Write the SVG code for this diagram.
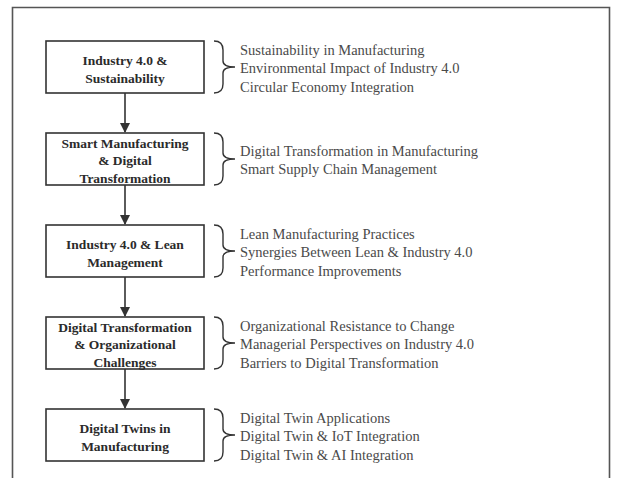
<svg xmlns="http://www.w3.org/2000/svg" width="621" height="478" viewBox="0 0 621 478">
<style>
.frame{fill:none;stroke:#555;stroke-width:1.6}
.box{fill:#fff;stroke:#333;stroke-width:1.6}
.bt{font-family:"Liberation Serif",serif;font-weight:bold;font-size:13.5px;fill:#2b2b2b;text-anchor:middle}
.rt{font-family:"Liberation Serif",serif;font-size:14.5px;fill:#4a4a4a}
.brace{fill:none;stroke:#333;stroke-width:1.4}
.conn{stroke:#333;stroke-width:1.6;fill:none}
</style>
<defs>
<marker id="ah" markerWidth="10" markerHeight="12" refX="9" refY="6" orient="auto" markerUnits="userSpaceOnUse">
<path d="M0,1 L10,6 L0,11 Z" fill="#333"/>
</marker>
</defs>
<rect width="621" height="478" fill="#fff"/>
<path class="frame" d="M12.5,478 V7.5 H609.5 V478"/>
<g id="connectors">
<line class="conn" x1="125" y1="93" x2="125" y2="132" marker-end="url(#ah)"/>
<line class="conn" x1="125" y1="185" x2="125" y2="224" marker-end="url(#ah)"/>
<line class="conn" x1="125" y1="277" x2="125" y2="316" marker-end="url(#ah)"/>
<line class="conn" x1="125" y1="369" x2="125" y2="408" marker-end="url(#ah)"/>
</g>
<g id="node1">
<rect class="box" x="46" y="41" width="158" height="52"/>
<text class="bt" x="125" y="65">Industry 4.0 &amp;</text>
<text class="bt" x="125" y="82.5">Sustainability</text>
<path class="brace" d="M214,41 Q223,41 223,50 V61 Q223,67 235,67 Q223,67 223,73 V84 Q223,93 214,93"/>
<text class="rt" x="240" y="55">Sustainability in Manufacturing</text>
<text class="rt" x="240" y="73.3">Environmental Impact of Industry 4.0</text>
<text class="rt" x="240" y="91.6">Circular Economy Integration</text>
</g>
<g id="node2">
<rect class="box" x="46" y="133" width="158" height="52"/>
<text class="bt" x="125" y="148">Smart Manufacturing</text>
<text class="bt" x="125" y="165.3">&amp; Digital</text>
<text class="bt" x="125" y="182.5">Transformation</text>
<path class="brace" d="M214,133 Q223,133 223,142 V153 Q223,159 235,159 Q223,159 223,165 V176 Q223,185 214,185"/>
<text class="rt" x="240" y="156">Digital Transformation in Manufacturing</text>
<text class="rt" x="240" y="174.3">Smart Supply Chain Management</text>
</g>
<g id="node3">
<rect class="box" x="46" y="225" width="158" height="52"/>
<text class="bt" x="125" y="249">Industry 4.0 &amp; Lean</text>
<text class="bt" x="125" y="266.5">Management</text>
<path class="brace" d="M214,225 Q223,225 223,234 V245 Q223,251 235,251 Q223,251 223,257 V268 Q223,277 214,277"/>
<text class="rt" x="240" y="239">Lean Manufacturing Practices</text>
<text class="rt" x="240" y="257.3">Synergies Between Lean &amp; Industry 4.0</text>
<text class="rt" x="240" y="275.6">Performance Improvements</text>
</g>
<g id="node4">
<rect class="box" x="46" y="317" width="158" height="52"/>
<text class="bt" x="125" y="332">Digital Transformation</text>
<text class="bt" x="125" y="349.3">&amp; Organizational</text>
<text class="bt" x="125" y="366.5">Challenges</text>
<path class="brace" d="M214,317 Q223,317 223,326 V337 Q223,343 235,343 Q223,343 223,349 V360 Q223,369 214,369"/>
<text class="rt" x="240" y="331">Organizational Resistance to Change</text>
<text class="rt" x="240" y="349.3">Managerial Perspectives on Industry 4.0</text>
<text class="rt" x="240" y="367.6">Barriers to Digital Transformation</text>
</g>
<g id="node5">
<rect class="box" x="46" y="409" width="158" height="52"/>
<text class="bt" x="125" y="433">Digital Twins in</text>
<text class="bt" x="125" y="450.5">Manufacturing</text>
<path class="brace" d="M214,409 Q223,409 223,418 V429 Q223,435 235,435 Q223,435 223,441 V452 Q223,461 214,461"/>
<text class="rt" x="240" y="423">Digital Twin Applications</text>
<text class="rt" x="240" y="441.3">Digital Twin &amp; IoT Integration</text>
<text class="rt" x="240" y="459.6">Digital Twin &amp; AI Integration</text>
</g>
</svg>
